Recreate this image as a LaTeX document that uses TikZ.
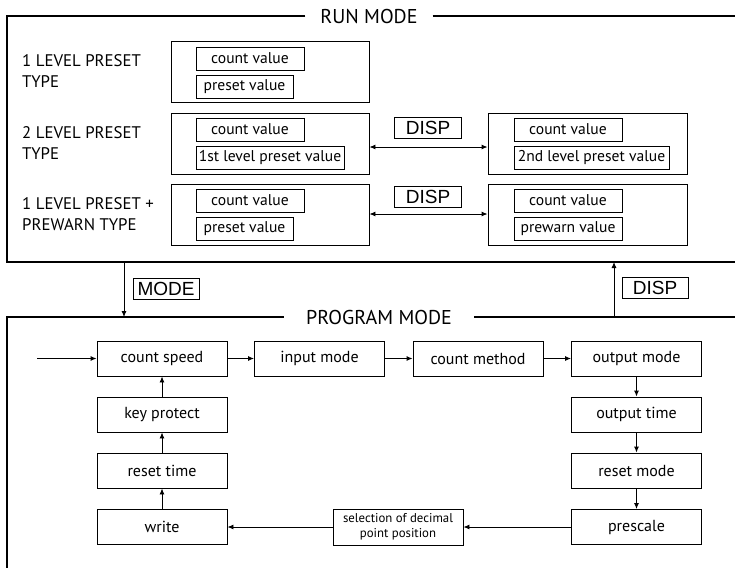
\documentclass[tikz,border=0pt]{standalone}
\usepackage{fontspec}
\setmainfont{PT Sans}
\newfontfamily\dispfont{Liberation Sans}
\usetikzlibrary{arrows.meta}
\begin{document}
\begin{tikzpicture}[x=1pt,y=-1pt,
  frame/.style={line width=1.4pt},
  outerbox/.style={draw, line width=0.9pt, minimum width=198pt, minimum height=61pt, inner sep=0pt},
  valbox/.style={draw, line width=0.9pt, minimum height=23pt, inner sep=0pt, font=\fontsize{15.6}{17}\selectfont},
  keybox/.style={draw, line width=0.9pt, minimum width=67pt, minimum height=21pt, inner sep=0pt, font=\dispfont\fontsize{19}{21}\selectfont},
  progbox/.style={draw, line width=0.9pt, minimum width=130pt, minimum height=35pt, inner sep=0pt, font=\fontsize{16}{18}\selectfont},
  typelabel/.style={anchor=west, align=left, inner sep=0pt, font=\fontsize{16.8}{21}\selectfont},
  header/.style={inner ysep=0pt, font=\fontsize{20}{22}\selectfont},
  arr/.style={-{Latex[length=6pt,width=5pt]}, line width=0.9pt},
  darr/.style={{Latex[length=6pt,width=5pt]}-{Latex[length=6pt,width=5pt]}, line width=0.9pt}
]
\useasboundingbox (0,0) rectangle (735,568);

% ---------- RUN MODE ----------
\node[header, inner xsep=15pt] (run) at (369,16) {RUN MODE};
\draw[frame] (run.west) -- (7,16) |- (735,262);
\draw[frame] (run.east) -- (735,16);

\node[typelabel] (l1) at (22,71.5) {1 LEVEL PRESET\\TYPE};
\node[typelabel] (l2) at (22,143.5) {2 LEVEL PRESET\\TYPE};
\node[typelabel] (l3) at (22,214.5) {1 LEVEL PRESET +\\PREWARN TYPE};

\node[outerbox] (b1) at (270,71.5) {};
\node[outerbox] (b2) at (270,143.5) {};
\node[outerbox] (b3) at (270,214.5) {};
\node[outerbox, minimum width=199pt] (b2r) at (587.5,143.5) {};
\node[outerbox, minimum width=199pt] (b3r) at (587.5,214.5) {};

\node[valbox, minimum width=108pt] (c1) at (250,58.5) {count value};
\node[valbox, minimum width=97pt] (p1) at (244.5,86.5) {preset value};
\node[valbox, minimum width=108pt] (c2) at (250,129.5) {count value};
\node[valbox, minimum width=148pt] (p2) at (270,157.5) {1st level preset value};
\node[valbox, minimum width=108pt] (c3) at (250,200.5) {count value};
\node[valbox, minimum width=97pt] (p3) at (244.5,228.5) {preset value};

\node[valbox, minimum width=108pt] (c2r) at (568,129.5) {count value};
\node[valbox, minimum width=155pt] (p2r) at (591.5,157.5) {2nd level preset value};
\node[valbox, minimum width=108pt] (c3r) at (568,200.5) {count value};
\node[valbox, minimum width=108pt] (p3r) at (568,228.5) {prewarn value};

\node[keybox] (d2) at (428,128) {DISP};
\node[keybox] (d3) at (428,197) {DISP};
\draw[darr] (b2.east |- 0,147) -- (b2r.west |- 0,147);
\draw[darr] (b3.east |- 0,214) -- (b3r.west |- 0,214);

% ---------- transitions ----------
\coordinate (mtop) at (124,262);
\coordinate (mbot) at (124,317);
\draw[arr] (mtop) -- (mbot);
\node[keybox, minimum width=66pt] (mode) at (166,288.5) {MODE};
\coordinate (dbot) at (614,317);
\coordinate (dtop) at (614,262);
\draw[arr] (dbot) -- (dtop);
\node[keybox, minimum width=66pt] (disp) at (655,288) {DISP};

% ---------- PROGRAM MODE ----------
\node[header, inner xsep=22pt] (prog) at (379,317) {PROGRAM MODE};
\draw[frame] (prog.west) -- (7,317) -- (7,568);
\draw[frame] (prog.east) -- (735,317);

\node[progbox] (cs) at (162,358.5) {count speed};
\node[progbox] (im) at (319.5,358.5) {input mode};
\node[progbox] (cm) at (478,358.5) {count method};
\node[progbox] (om) at (636.5,358.5) {output mode};
\node[progbox] (ot) at (636.5,414.5) {output time};
\node[progbox] (rm) at (636.5,470.5) {reset mode};
\node[progbox] (ps) at (636.5,527) {prescale};
\node[progbox, minimum height=36pt, align=center, font=\fontsize{12.8}{15}\selectfont] (sel) at (398,527) {selection of decimal\\point position};
\node[progbox] (wr) at (162,527) {write};
\node[progbox] (rt) at (162,470.5) {reset time};
\node[progbox] (kp) at (162,414.5) {key protect};

\coordinate (entry) at (37,358.5);
\draw[arr] (entry) -- (cs);
\draw[arr] (cs) -- (im);
\draw[arr] (im) -- (cm);
\draw[arr] (cm) -- (om);
\draw[arr] (om) -- (ot);
\draw[arr] (ot) -- (rm);
\draw[arr] (rm) -- (ps);
\draw[arr] (ps) -- (sel);
\draw[arr] (sel) -- (wr);
\draw[arr] (wr) -- (rt);
\draw[arr] (rt) -- (kp);
\draw[arr] (kp) -- (cs);
\end{tikzpicture}
\end{document}
